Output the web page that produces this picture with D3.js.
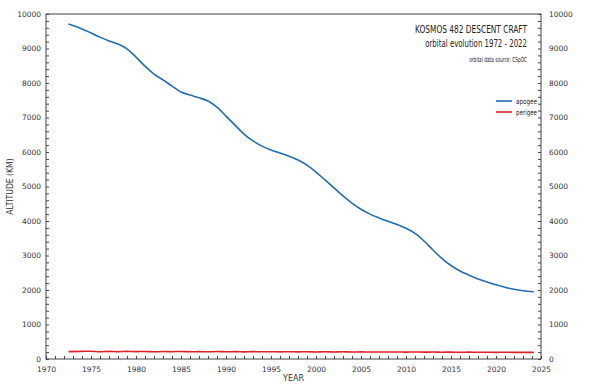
<!DOCTYPE html>
<html><head><meta charset="utf-8">
<script src="https://cdn.jsdelivr.net/npm/d3@7"></script>
<style>body{margin:0;background:#fff;} text{font-family:"DejaVu Sans",sans-serif;}</style>
</head><body>
<svg id="c" width="600" height="390"></svg>
<script>
const years = [1972.5,1973.8,1975,1976,1977,1978,1979,1980,1981,1982,1983,1984,1985,1986,1987,1988,1989,1990,1991,1992,1993,1994,1995,1996,1997,1998,1999,2000,2001,2002,2003,2004,2005,2006,2007,2008,2009,2010,2011,2012,2013,2014,2015,2016,2017,2018,2019,2020,2021,2022,2023,2024.2];
const apogee = [9710,9590,9450,9330,9220,9130,8990,8750,8490,8260,8090,7910,7740,7650,7570,7480,7300,7040,6780,6520,6320,6170,6060,5970,5880,5770,5620,5420,5190,4960,4730,4520,4340,4200,4090,3990,3900,3790,3640,3420,3160,2910,2710,2550,2430,2320,2230,2150,2080,2020,1980,1950];
const perigee = [215,222,226,210,222,212,220,214,218,208,216,212,219,210,214,208,216,211,213,207,214,209,212,206,211,207,210,205,209,204,208,203,206,202,205,201,204,200,203,199,201,197,199,196,198,194,196,193,195,192,193,191];
const xTicks = [1970,1975,1980,1985,1990,1995,2000,2005,2010,2015,2020,2025];
const yTicks = [0,1000,2000,3000,4000,5000,6000,7000,8000,9000,10000];
const seriesNames = ["apogee","perigee"];
const seriesColors = ["#1f6db5","#e0202a"];

const svg = d3.select("#c");
const L=46, R=541, T=14, B=359;
const x = d3.scaleLinear().domain([1970,2025]).range([L,R]);
const y = d3.scaleLinear().domain([0,10000]).range([B,T]);
const tc = "#333";
const cond = "'DejaVu Sans Condensed','Liberation Sans Narrow','DejaVu Sans',sans-serif";

svg.append("rect").attr("x",L).attr("y",T).attr("width",R-L).attr("height",B-T)
  .attr("fill","none").attr("stroke","#444").attr("stroke-width",1);

const minorX = d3.range(1970,2026,1);
const minorY = d3.range(0,10001,200);

function styleAxis(g){
  g.select(".domain").remove();
  g.selectAll("line").attr("stroke","#444");
  g.selectAll("text").attr("fill",tc).style("font-size","7.5px");
}
svg.append("g").attr("transform",`translate(0,${B})`)
  .call(d3.axisBottom(x).tickValues(minorX).tickSize(-3).tickFormat(""))
  .call(styleAxis);
svg.append("g").attr("transform",`translate(0,${B})`)
  .call(d3.axisBottom(x).tickValues(xTicks).tickSize(0).tickPadding(8).tickFormat(d3.format("d")))
  .call(styleAxis);
svg.append("g").attr("transform",`translate(${L},0)`)
  .call(d3.axisLeft(y).tickValues(minorY).tickSize(-3).tickFormat(""))
  .call(styleAxis);
svg.append("g").attr("transform",`translate(${L},0)`)
  .call(d3.axisLeft(y).tickValues(yTicks).tickSize(0).tickPadding(5).tickFormat(d3.format("d")))
  .call(styleAxis);
svg.append("g").attr("transform",`translate(${R},0)`)
  .call(d3.axisRight(y).tickValues(minorY).tickSize(-3).tickFormat(""))
  .call(styleAxis);
svg.append("g").attr("transform",`translate(${R},0)`)
  .call(d3.axisRight(y).tickValues(yTicks).tickSize(0).tickPadding(8).tickFormat(d3.format("d")))
  .call(styleAxis);

svg.append("text").attr("x",(L+R)/2).attr("y",381).attr("text-anchor","middle")
  .attr("fill",tc).style("font-size","8px").text("YEAR");
svg.append("text").attr("transform",`translate(13,${(T+B)/2}) rotate(-90)`)
  .attr("text-anchor","middle").attr("fill",tc).style("font-size","8.5px")
  .style("font-family",cond).text("ALTITUDE (KM)");

const line = vals => d3.line().x((d,i)=>x(years[i])).y(d=>y(d)).curve(d3.curveMonotoneX)(vals);
[apogee,perigee].forEach((vals,k)=>{
  svg.append("path").attr("d",line(vals)).attr("fill","none")
    .attr("stroke",seriesColors[k]).attr("stroke-width",1.6);
});

// text squeezed horizontally to a target width
function squeezed(txt,xx,yy,fs,len,anchor){
  const t = svg.append("text").attr("fill","#222").attr("text-anchor",anchor)
    .style("font-size",fs+"px").style("font-family",cond).text(txt);
  const w = t.node().getComputedTextLength();
  const s = Math.min(1, len / w);
  t.attr("transform",`translate(${xx},${yy}) scale(${s},1)`);
  return t;
}
const tx = 527;
squeezed("KOSMOS 482 DESCENT CRAFT",tx,33,11,112,"end");
squeezed("orbital evolution 1972 - 2022",tx,47,10.5,102,"end");
squeezed("orbital data source:  CSpOC",tx,62,7,58,"end");

seriesNames.forEach((n,k)=>{
  const ly = 101 + k*11;
  svg.append("line").attr("x1",496).attr("x2",512).attr("y1",ly).attr("y2",ly)
    .attr("stroke",seriesColors[k]).attr("stroke-width",1.6);
  squeezed(n,516,ly+3,7.5,21,"start");
});
</script>
</body></html>
